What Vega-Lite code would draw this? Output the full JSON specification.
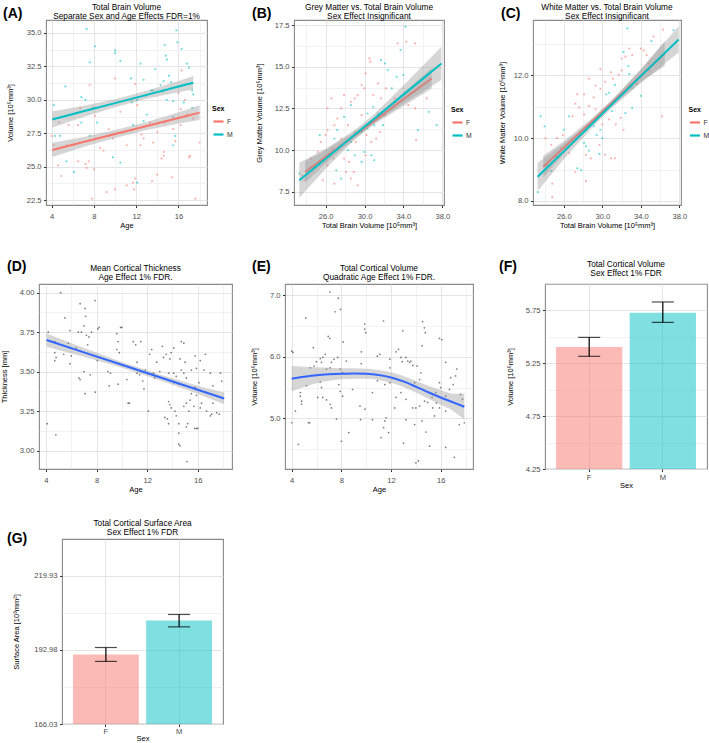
{
"$schema": "https://vega.github.io/schema/vega-lite/v6.json",
"padding": {"top": 1, "left": 0, "right": 0, "bottom": 0},
"background": "white",
"spacing": 0,
"datasets": {
"A_pts": [
{"s":"M","x":7.3,"y":35.3},{"s":"M","x":8.1,"y":34.0},{"s":"M","x":5.3,"y":31.0},{"s":"M","x":4.2,"y":29.6},{"s":"M","x":7.6,"y":32.8},{"s":"M","x":6.8,"y":30.2},{"s":"M","x":7.2,"y":30.0},{"s":"M","x":7.9,"y":29.4},{"s":"M","x":10.0,"y":33.7},{"s":"M","x":10.0,"y":33.5},{"s":"M","x":10.5,"y":32.9},{"s":"M","x":11.5,"y":31.6},{"s":"M","x":12.4,"y":32.7},{"s":"M","x":12.7,"y":31.5},{"s":"M","x":12.9,"y":30.3},{"s":"M","x":13.4,"y":30.7},{"s":"M","x":13.8,"y":32.3},{"s":"M","x":14.7,"y":34.1},{"s":"M","x":14.8,"y":33.3},{"s":"M","x":14.9,"y":33.0},{"s":"M","x":15.1,"y":31.8},{"s":"M","x":14.6,"y":31.4},{"s":"M","x":14.3,"y":31.1},{"s":"M","x":15.3,"y":31.3},{"s":"M","x":15.8,"y":35.2},{"s":"M","x":15.9,"y":34.3},{"s":"M","x":16.3,"y":33.8},{"s":"M","x":16.8,"y":32.7},{"s":"M","x":17.0,"y":32.4},{"s":"M","x":17.4,"y":30.4},{"s":"M","x":17.3,"y":29.4},{"s":"M","x":15.5,"y":28.7},{"s":"M","x":15.7,"y":27.3},{"s":"M","x":12.7,"y":28.4},{"s":"M","x":5.4,"y":25.4},{"s":"M","x":6.1,"y":24.6},{"s":"M","x":6.8,"y":28.3},{"s":"M","x":4.3,"y":27.3},{"s":"M","x":4.8,"y":27.3},{"s":"M","x":9.8,"y":25.7},{"s":"M","x":10.5,"y":25.3},{"s":"M","x":12.1,"y":23.8},{"s":"M","x":13.6,"y":30.7},{"s":"M","x":11.6,"y":29.8},{"s":"M","x":12.1,"y":30.0},{"s":"M","x":14.5,"y":30.6},{"s":"M","x":14.9,"y":30.0},{"s":"M","x":11.7,"y":28.1},{"s":"M","x":13.0,"y":28.9},{"s":"M","x":7.6,"y":27.3},{"s":"M","x":8.3,"y":28.3},{"s":"M","x":15.5,"y":26.6},{"s":"M","x":16.5,"y":29.8},{"s":"M","x":17.3,"y":30.7},{"s":"M","x":15.5,"y":29.9},
{"s":"F","x":11.9,"y":31.2},{"s":"F","x":10.0,"y":31.6},{"s":"F","x":4.0,"y":27.3},{"s":"F","x":4.2,"y":26.6},{"s":"F","x":4.6,"y":25.1},{"s":"F","x":4.9,"y":24.3},{"s":"F","x":6.5,"y":25.4},{"s":"F","x":7.2,"y":25.2},{"s":"F","x":7.3,"y":24.9},{"s":"F","x":7.5,"y":25.4},{"s":"F","x":8.0,"y":24.8},{"s":"F","x":7.8,"y":22.6},{"s":"F","x":9.2,"y":23.1},{"s":"F","x":10.0,"y":23.3},{"s":"F","x":11.1,"y":23.6},{"s":"F","x":11.7,"y":23.8},{"s":"F","x":11.9,"y":24.1},{"s":"F","x":11.8,"y":23.3},{"s":"F","x":13.5,"y":23.9},{"s":"F","x":14.0,"y":24.4},{"s":"F","x":14.6,"y":26.1},{"s":"F","x":14.6,"y":25.8},{"s":"F","x":14.4,"y":25.6},{"s":"F","x":15.4,"y":24.2},{"s":"F","x":15.7,"y":26.9},{"s":"F","x":16.2,"y":28.1},{"s":"F","x":17.0,"y":25.7},{"s":"F","x":17.1,"y":25.8},{"s":"F","x":17.6,"y":22.6},{"s":"F","x":18.0,"y":26.8},{"s":"F","x":16.3,"y":32.2},{"s":"F","x":16.0,"y":30.5},{"s":"F","x":12.4,"y":26.6},{"s":"F","x":12.7,"y":27.1},{"s":"F","x":11.1,"y":26.6},{"s":"F","x":9.8,"y":27.1},{"s":"F","x":8.6,"y":26.4},{"s":"F","x":8.9,"y":26.2},{"s":"F","x":6.1,"y":26.6},{"s":"F","x":5.6,"y":28.1},{"s":"F","x":6.7,"y":29.4},{"s":"F","x":9.4,"y":27.3},{"s":"F","x":8.1,"y":28.8},{"s":"F","x":7.6,"y":31.1},{"s":"F","x":13.3,"y":28.3},{"s":"F","x":14.0,"y":27.6},{"s":"F","x":14.7,"y":28.3},{"s":"F","x":15.5,"y":27.8},{"s":"F","x":16.2,"y":29.3},{"s":"F","x":16.6,"y":30.0},{"s":"F","x":17.4,"y":28.6},{"s":"F","x":16.8,"y":28.9},{"s":"F","x":13.6,"y":26.8},{"s":"F","x":11.6,"y":27.7},{"s":"F","x":12.5,"y":27.4},{"s":"F","x":6.5,"y":28.1},{"s":"F","x":5.4,"y":26.6},{"s":"F","x":9.4,"y":27.8},{"s":"F","x":10.5,"y":29.1},{"s":"F","x":12.1,"y":29.6},{"s":"F","x":4.2,"y":28.6},{"s":"F","x":4.7,"y":28.3}
],
"A_fit": [
{"s":"F","x":4.06,"y":26.25,"lo":25.72,"hi":26.78},{"s":"F","x":7,"y":26.84,"lo":26.46,"hi":27.22},{"s":"F","x":10,"y":27.44,"lo":27.14,"hi":27.74},{"s":"F","x":13,"y":28.04,"lo":27.74,"hi":28.34},{"s":"F","x":16,"y":28.64,"lo":28.22,"hi":29.06},{"s":"F","x":18,"y":29.04,"lo":28.49,"hi":29.59},
{"s":"M","x":4.06,"y":28.53,"lo":27.93,"hi":29.13},{"s":"M","x":7,"y":29.14,"lo":28.72,"hi":29.56},{"s":"M","x":10,"y":29.75,"lo":29.45,"hi":30.05},{"s":"M","x":13,"y":30.37,"lo":30.07,"hi":30.67},{"s":"M","x":16,"y":30.99,"lo":30.57,"hi":31.41},{"s":"M","x":17.4,"y":31.28,"lo":30.78,"hi":31.78}
],
"B_pts": [
{"s":"M","x":34.2,"y":17.4},{"s":"M","x":33.7,"y":16.0},{"s":"M","x":31.7,"y":15.4},{"s":"M","x":32.1,"y":15.2},{"s":"M","x":32.8,"y":13.7},{"s":"M","x":33.3,"y":14.4},{"s":"M","x":34.0,"y":14.5},{"s":"M","x":30.9,"y":12.6},{"s":"M","x":31.4,"y":12.2},{"s":"M","x":30.3,"y":11.3},{"s":"M","x":31.0,"y":11.5},{"s":"M","x":31.9,"y":11.5},{"s":"M","x":29.7,"y":11.1},{"s":"M","x":28.6,"y":12.7},{"s":"M","x":27.9,"y":12.0},{"s":"M","x":27.2,"y":11.2},{"s":"M","x":26.9,"y":10.7},{"s":"M","x":25.4,"y":10.9},{"s":"M","x":26.4,"y":9.7},{"s":"M","x":28.3,"y":10.0},{"s":"M","x":29.0,"y":9.7},{"s":"M","x":30.0,"y":9.9},{"s":"M","x":30.7,"y":9.7},{"s":"M","x":31.0,"y":9.4},{"s":"M","x":29.7,"y":9.3},{"s":"M","x":27.1,"y":8.8},{"s":"M","x":27.6,"y":8.3},{"s":"M","x":24.8,"y":9.0},{"s":"M","x":24.0,"y":8.3},{"s":"M","x":23.3,"y":8.6},{"s":"M","x":35.5,"y":11.2},{"s":"M","x":37.4,"y":11.5},{"s":"M","x":36.6,"y":12.3},{"s":"M","x":35.1,"y":13.5},{"s":"M","x":32.4,"y":14.8},{"s":"M","x":32.8,"y":12.5},{"s":"M","x":28.6,"y":10.5},{"s":"M","x":30.3,"y":12.2},
{"s":"F","x":33.4,"y":16.4},{"s":"F","x":34.3,"y":16.5},{"s":"F","x":35.2,"y":16.4},{"s":"F","x":30.5,"y":15.5},{"s":"F","x":30.6,"y":15.3},{"s":"F","x":30.1,"y":14.6},{"s":"F","x":29.7,"y":13.9},{"s":"F","x":30.0,"y":13.7},{"s":"F","x":29.3,"y":13.3},{"s":"F","x":29.0,"y":13.1},{"s":"F","x":28.6,"y":12.9},{"s":"F","x":31.4,"y":14.0},{"s":"F","x":32.2,"y":13.7},{"s":"F","x":30.9,"y":13.3},{"s":"F","x":31.7,"y":13.1},{"s":"F","x":27.6,"y":12.5},{"s":"F","x":27.2,"y":11.9},{"s":"F","x":26.9,"y":11.5},{"s":"F","x":26.2,"y":11.2},{"s":"F","x":26.0,"y":10.9},{"s":"F","x":25.5,"y":10.5},{"s":"F","x":25.2,"y":9.9},{"s":"F","x":24.5,"y":9.5},{"s":"F","x":24.3,"y":8.9},{"s":"F","x":23.8,"y":8.2},{"s":"F","x":23.6,"y":8.5},{"s":"F","x":25.7,"y":8.2},{"s":"F","x":26.2,"y":9.1},{"s":"F","x":26.7,"y":10.1},{"s":"F","x":26.8,"y":9.5},{"s":"F","x":27.9,"y":9.5},{"s":"F","x":28.4,"y":9.3},{"s":"F","x":28.9,"y":8.7},{"s":"F","x":29.3,"y":7.9},{"s":"F","x":30.1,"y":9.7},{"s":"F","x":30.7,"y":10.5},{"s":"F","x":30.2,"y":10.9},{"s":"F","x":31.2,"y":10.7},{"s":"F","x":31.6,"y":11.1},{"s":"F","x":32.1,"y":12.1},{"s":"F","x":33.1,"y":13.1},{"s":"F","x":34.5,"y":12.7},{"s":"F","x":35.2,"y":12.5},{"s":"F","x":35.3,"y":10.6},{"s":"F","x":36.4,"y":13.1},{"s":"F","x":28.1,"y":8.7},{"s":"F","x":28.6,"y":8.3},{"s":"F","x":26.9,"y":8.0},{"s":"F","x":27.6,"y":10.7},{"s":"F","x":29.0,"y":11.1},{"s":"F","x":29.7,"y":12.1},{"s":"F","x":28.3,"y":11.5},{"s":"F","x":29.1,"y":10.5},{"s":"F","x":26.6,"y":13.1},{"s":"F","x":27.9,"y":13.3},{"s":"F","x":26.2,"y":12.5}
],
"B_fit": [
{"s":"F","x":23.9,"y":8.7,"lo":8.05,"hi":9.35},{"s":"F","x":26,"y":9.6,"lo":9.2,"hi":10.0},{"s":"F","x":29,"y":10.9,"lo":10.7,"hi":11.1},{"s":"F","x":31,"y":11.76,"lo":11.56,"hi":11.96},{"s":"F","x":34,"y":13.05,"lo":12.65,"hi":13.45},{"s":"F","x":36.9,"y":14.3,"lo":13.68,"hi":14.92},
{"s":"M","x":23.3,"y":8.2,"lo":7.15,"hi":9.25},{"s":"M","x":26,"y":9.49,"lo":8.89,"hi":10.09},{"s":"M","x":29,"y":10.93,"lo":10.65,"hi":11.21},{"s":"M","x":31,"y":11.89,"lo":11.61,"hi":12.17},{"s":"M","x":34,"y":13.33,"lo":12.78,"hi":13.88},{"s":"M","x":37.9,"y":15.2,"lo":14.2,"hi":16.2}
],
"C_pts": [
{"s":"M","x":32.6,"y":13.5},{"s":"M","x":35.1,"y":13.1},{"s":"M","x":37.4,"y":13.45},{"s":"M","x":32.7,"y":12.3},{"s":"M","x":32.2,"y":12.75},{"s":"M","x":32.8,"y":12.05},{"s":"M","x":33.1,"y":11.6},{"s":"M","x":34.0,"y":11.35},{"s":"M","x":31.3,"y":11.7},{"s":"M","x":30.7,"y":11.45},{"s":"M","x":30.4,"y":11.4},{"s":"M","x":33.1,"y":10.97},{"s":"M","x":32.4,"y":10.8},{"s":"M","x":31.0,"y":10.87},{"s":"M","x":29.8,"y":10.27},{"s":"M","x":29.4,"y":10.1},{"s":"M","x":30.0,"y":10.0},{"s":"M","x":29.7,"y":9.5},{"s":"M","x":28.1,"y":9.85},{"s":"M","x":28.3,"y":9.74},{"s":"M","x":28.6,"y":9.6},{"s":"M","x":27.4,"y":9.04},{"s":"M","x":27.8,"y":8.98},{"s":"M","x":23.6,"y":10.7},{"s":"M","x":24.0,"y":10.38},{"s":"M","x":24.7,"y":8.95},{"s":"M","x":23.3,"y":8.28},{"s":"M","x":29.1,"y":10.38},{"s":"M","x":27.6,"y":10.1},{"s":"M","x":26.55,"y":10.7},{"s":"M","x":26.0,"y":10.27},
{"s":"F","x":36.3,"y":13.46},{"s":"F","x":35.3,"y":13.24},{"s":"F","x":34.3,"y":12.8},{"s":"F","x":34.0,"y":12.86},{"s":"F","x":32.8,"y":12.86},{"s":"F","x":33.1,"y":12.65},{"s":"F","x":32.4,"y":12.6},{"s":"F","x":32.0,"y":12.54},{"s":"F","x":32.0,"y":12.16},{"s":"F","x":31.7,"y":12.03},{"s":"F","x":31.1,"y":11.9},{"s":"F","x":30.9,"y":12.1},{"s":"F","x":29.8,"y":12.2},{"s":"F","x":28.6,"y":11.9},{"s":"F","x":29.3,"y":11.68},{"s":"F","x":29.8,"y":11.57},{"s":"F","x":30.3,"y":11.8},{"s":"F","x":28.1,"y":11.4},{"s":"F","x":29.1,"y":11.3},{"s":"F","x":27.4,"y":11.4},{"s":"F","x":26.9,"y":10.7},{"s":"F","x":27.2,"y":11.1},{"s":"F","x":27.6,"y":10.98},{"s":"F","x":28.1,"y":10.76},{"s":"F","x":28.6,"y":11.03},{"s":"F","x":29.3,"y":10.92},{"s":"F","x":30.0,"y":10.87},{"s":"F","x":30.7,"y":10.6},{"s":"F","x":31.4,"y":10.44},{"s":"F","x":31.9,"y":10.65},{"s":"F","x":32.2,"y":10.27},{"s":"F","x":30.0,"y":10.44},{"s":"F","x":29.7,"y":9.79},{"s":"F","x":30.3,"y":9.47},{"s":"F","x":30.9,"y":9.36},{"s":"F","x":31.3,"y":9.36},{"s":"F","x":28.3,"y":9.47},{"s":"F","x":28.8,"y":9.36},{"s":"F","x":26.55,"y":9.52},{"s":"F","x":25.7,"y":9.68},{"s":"F","x":25.2,"y":9.41},{"s":"F","x":25.9,"y":10.1},{"s":"F","x":25.3,"y":10.0},{"s":"F","x":24.7,"y":9.79},{"s":"F","x":24.3,"y":9.14},{"s":"F","x":24.1,"y":10.0},{"s":"F","x":24.8,"y":8.55},{"s":"F","x":24.8,"y":8.12},{"s":"F","x":27.2,"y":8.93},{"s":"F","x":28.3,"y":8.63},{"s":"F","x":34.8,"y":12.38},{"s":"F","x":34.6,"y":12.65},{"s":"F","x":36.2,"y":10.7},{"s":"F","x":33.6,"y":11.73},{"s":"F","x":34.0,"y":11.95},{"s":"F","x":34.9,"y":12.16}
],
"C_fit": [
{"s":"F","x":23.86,"y":9.09,"lo":8.74,"hi":9.44},{"s":"F","x":26,"y":9.7,"lo":9.5,"hi":9.9},{"s":"F","x":29,"y":10.56,"lo":10.46,"hi":10.66},{"s":"F","x":31,"y":11.13,"lo":11.03,"hi":11.23},{"s":"F","x":34,"y":11.99,"lo":11.79,"hi":12.19},{"s":"F","x":36.48,"y":12.7,"lo":12.3,"hi":13.1},
{"s":"M","x":23.28,"y":8.77,"lo":8.32,"hi":9.22},{"s":"M","x":26,"y":9.58,"lo":9.33,"hi":9.83},{"s":"M","x":29,"y":10.48,"lo":10.36,"hi":10.6},{"s":"M","x":31,"y":11.08,"lo":10.96,"hi":11.2},{"s":"M","x":34,"y":11.98,"lo":11.76,"hi":12.2},{"s":"M","x":37.93,"y":13.15,"lo":12.73,"hi":13.57}
],
"D_pts": [
{"x":5.16,"y":4.00},{"x":5.5,"y":3.84},{"x":6.7,"y":3.93},{"x":7.14,"y":3.85},{"x":7.09,"y":3.90},{"x":7.88,"y":3.95},{"x":5.9,"y":3.76},{"x":6.56,"y":3.75},{"x":6.8,"y":3.75},{"x":7.0,"y":3.79},{"x":7.2,"y":3.73},{"x":7.4,"y":3.72},{"x":7.6,"y":3.75},{"x":8.1,"y":3.77},{"x":8.2,"y":3.78},{"x":5.77,"y":3.68},{"x":5.9,"y":3.65},{"x":6.4,"y":3.65},{"x":7.3,"y":3.67},{"x":4.18,"y":3.75},{"x":4.7,"y":3.69},{"x":4.7,"y":3.62},{"x":4.8,"y":3.59},{"x":4.7,"y":3.57},{"x":5.4,"y":3.61},{"x":6.0,"y":3.60},{"x":5.9,"y":3.55},{"x":6.7,"y":3.45},{"x":7.0,"y":3.50},{"x":7.1,"y":3.36},{"x":6.6,"y":3.46},{"x":7.5,"y":3.48},{"x":8.06,"y":3.57},{"x":8.3,"y":3.59},{"x":8.9,"y":3.50},{"x":9.1,"y":3.49},{"x":9.0,"y":3.41},{"x":9.6,"y":3.74},{"x":9.9,"y":3.78},{"x":10.0,"y":3.78},{"x":9.7,"y":3.69},{"x":9.8,"y":3.62},{"x":9.6,"y":3.64},{"x":10.9,"y":3.69},{"x":11.1,"y":3.67},{"x":11.5,"y":3.69},{"x":10.4,"y":3.45},{"x":10.5,"y":3.30},{"x":11.2,"y":3.56},{"x":11.2,"y":3.49},{"x":11.4,"y":3.48},{"x":11.65,"y":3.44},{"x":11.75,"y":3.39},{"x":11.86,"y":3.51},{"x":12.1,"y":3.25},{"x":12.2,"y":3.61},{"x":12.36,"y":3.64},{"x":12.5,"y":3.49},{"x":12.6,"y":3.46},{"x":12.76,"y":3.56},{"x":13.0,"y":3.50},{"x":13.2,"y":3.66},{"x":13.3,"y":3.59},{"x":13.5,"y":3.61},{"x":13.7,"y":3.49},{"x":13.8,"y":3.58},{"x":13.9,"y":3.62},{"x":14.1,"y":3.65},{"x":14.1,"y":3.49},{"x":14.3,"y":3.47},{"x":14.5,"y":3.42},{"x":14.6,"y":3.58},{"x":14.7,"y":3.51},{"x":14.9,"y":3.49},{"x":15.0,"y":3.56},{"x":15.1,"y":3.46},{"x":14.7,"y":3.69},{"x":14.9,"y":3.68},{"x":15.5,"y":3.51},{"x":15.8,"y":3.60},{"x":15.9,"y":3.52},{"x":16.2,"y":3.57},{"x":16.5,"y":3.51},{"x":16.6,"y":3.61},{"x":17.0,"y":3.49},{"x":17.2,"y":3.41},{"x":17.8,"y":3.49},{"x":17.9,"y":3.44},{"x":14.1,"y":3.43},{"x":13.7,"y":3.31},{"x":13.8,"y":3.29},{"x":13.9,"y":3.27},{"x":14.2,"y":3.25},{"x":14.3,"y":3.22},{"x":13.4,"y":3.21},{"x":14.9,"y":3.28},{"x":15.1,"y":3.30},{"x":15.3,"y":3.25},{"x":15.4,"y":3.32},{"x":15.5,"y":3.36},{"x":15.7,"y":3.28},{"x":15.8,"y":3.40},{"x":15.9,"y":3.35},{"x":16.1,"y":3.43},{"x":16.3,"y":3.30},{"x":16.7,"y":3.25},{"x":17.0,"y":3.22},{"x":17.1,"y":3.23},{"x":17.5,"y":3.24},{"x":17.7,"y":3.23},{"x":15.1,"y":3.15},{"x":15.9,"y":3.14},{"x":16.2,"y":3.27},{"x":17.2,"y":3.30},{"x":9.7,"y":3.42},{"x":7.9,"y":3.37},{"x":4.1,"y":3.17},{"x":4.78,"y":3.10},{"x":10.6,"y":3.30},{"x":13.6,"y":3.20},{"x":13.7,"y":3.17},{"x":14.5,"y":3.17},{"x":14.5,"y":3.11},{"x":14.5,"y":3.04},{"x":14.6,"y":3.03},{"x":15.2,"y":3.17},{"x":15.75,"y":3.14},{"x":16.0,"y":3.14},{"x":15.15,"y":2.93}
],
"D_fit": [
{"x":4.05,"y":3.70,"lo":3.658,"hi":3.742},{"x":7,"y":3.622,"lo":3.594,"hi":3.65},{"x":10,"y":3.543,"lo":3.525,"hi":3.561},{"x":13,"y":3.464,"lo":3.446,"hi":3.482},{"x":16,"y":3.385,"lo":3.359,"hi":3.411},{"x":18.09,"y":3.33,"lo":3.293,"hi":3.367}
],
"E_pts": [
{"x":7.08,"y":7.05},{"x":7.75,"y":6.95},{"x":7.93,"y":6.77},{"x":5.13,"y":6.63},{"x":7.48,"y":6.73},{"x":6.94,"y":6.33},{"x":7.08,"y":6.30},{"x":5.74,"y":6.15},{"x":9.88,"y":6.53},{"x":9.88,"y":6.45},{"x":9.96,"y":6.39},{"x":8.14,"y":6.24},{"x":9.61,"y":6.08},{"x":11.4,"y":6.58},{"x":12.95,"y":6.42},{"x":14.54,"y":6.57},{"x":14.68,"y":6.47},{"x":14.76,"y":6.39},{"x":14.5,"y":6.18},{"x":15.9,"y":6.30},{"x":16.1,"y":6.28},{"x":4.0,"y":6.09},{"x":4.1,"y":6.07},{"x":6.0,"y":5.92},{"x":6.3,"y":5.97},{"x":6.5,"y":5.99},{"x":6.7,"y":6.04},{"x":6.4,"y":5.91},{"x":7.2,"y":5.91},{"x":7.4,"y":5.96},{"x":7.7,"y":5.99},{"x":5.5,"y":5.82},{"x":5.8,"y":5.85},{"x":6.8,"y":5.80},{"x":7.1,"y":5.82},{"x":7.9,"y":5.80},{"x":8.4,"y":5.93},{"x":9.6,"y":5.89},{"x":10.9,"y":6.01},{"x":11.1,"y":6.04},{"x":11.9,"y":5.96},{"x":11.9,"y":5.82},{"x":12.4,"y":6.08},{"x":12.6,"y":6.12},{"x":12.8,"y":5.99},{"x":12.9,"y":5.92},{"x":13.2,"y":5.99},{"x":13.35,"y":5.93},{"x":13.5,"y":5.91},{"x":13.6,"y":5.93},{"x":13.75,"y":5.86},{"x":14.1,"y":5.85},{"x":14.4,"y":5.74},{"x":14.3,"y":5.63},{"x":13.9,"y":5.58},{"x":13.2,"y":5.31},{"x":12.8,"y":5.42},{"x":12.4,"y":5.34},{"x":12.3,"y":5.17},{"x":13.75,"y":5.17},{"x":14.0,"y":5.17},{"x":14.3,"y":5.20},{"x":14.7,"y":5.28},{"x":14.95,"y":5.26},{"x":15.3,"y":5.34},{"x":15.6,"y":5.42},{"x":15.35,"y":5.17},{"x":15.9,"y":5.58},{"x":16.0,"y":5.50},{"x":16.4,"y":5.36},{"x":16.7,"y":5.47},{"x":17.0,"y":5.55},{"x":17.2,"y":5.69},{"x":17.3,"y":5.80},{"x":17.6,"y":5.39},{"x":17.75,"y":5.31},{"x":15.65,"y":5.25},{"x":15.9,"y":5.17},{"x":16.4,"y":5.12},{"x":16.4,"y":5.91},{"x":16.8,"y":5.66},{"x":4.7,"y":5.42},{"x":4.7,"y":5.36},{"x":4.8,"y":5.28},{"x":4.8,"y":5.23},{"x":4.3,"y":5.12},{"x":5.2,"y":5.53},{"x":6.3,"y":5.59},{"x":6.4,"y":5.50},{"x":6.5,"y":5.34},{"x":6.8,"y":5.30},{"x":7.1,"y":5.23},{"x":7.2,"y":5.17},{"x":6.1,"y":5.34},{"x":7.8,"y":5.55},{"x":7.9,"y":5.44},{"x":8.1,"y":5.36},{"x":8.1,"y":5.74},{"x":8.9,"y":5.47},{"x":9.5,"y":5.20},{"x":9.9,"y":5.15},{"x":10.5,"y":5.42},{"x":10.9,"y":5.61},{"x":11.5,"y":5.55},{"x":11.9,"y":5.58},{"x":7.6,"y":4.99},{"x":4.0,"y":4.93},{"x":5.35,"y":4.93},{"x":10.5,"y":4.98},{"x":11.5,"y":4.96},{"x":11.6,"y":5.01},{"x":14.5,"y":4.96},{"x":15.5,"y":5.04},{"x":17.9,"y":4.93},{"x":4.54,"y":4.58},{"x":5.45,"y":4.93},{"x":8.0,"y":4.63},{"x":8.6,"y":4.77},{"x":9.55,"y":4.98},{"x":11.2,"y":4.69},{"x":11.4,"y":4.85},{"x":11.8,"y":4.77},{"x":13.0,"y":4.60},{"x":13.2,"y":4.98},{"x":13.9,"y":4.90},{"x":14.2,"y":4.31},{"x":14.0,"y":4.28},{"x":15.1,"y":4.55},{"x":14.8,"y":4.78},{"x":16.4,"y":4.53},{"x":17.1,"y":4.37},{"x":17.5,"y":4.90}
],
"E_fit": [
{"x":4.0,"y":5.645,"lo":5.44,"hi":5.85},{"x":5,"y":5.675,"lo":5.51,"hi":5.84},{"x":6,"y":5.70,"lo":5.57,"hi":5.83},{"x":7,"y":5.715,"lo":5.61,"hi":5.82},{"x":8,"y":5.725,"lo":5.635,"hi":5.815},{"x":9,"y":5.73,"lo":5.645,"hi":5.815},{"x":10,"y":5.725,"lo":5.645,"hi":5.805},{"x":11,"y":5.705,"lo":5.625,"hi":5.785},{"x":12,"y":5.665,"lo":5.58,"hi":5.75},{"x":13,"y":5.60,"lo":5.51,"hi":5.69},{"x":14,"y":5.515,"lo":5.42,"hi":5.61},{"x":15,"y":5.425,"lo":5.32,"hi":5.53},{"x":16,"y":5.34,"lo":5.22,"hi":5.46},{"x":17,"y":5.26,"lo":5.12,"hi":5.40},{"x":17.9,"y":5.19,"lo":4.98,"hi":5.40}
],
"F_bar": [{"s":"F","y":5.405,"lo":5.316,"hi":5.495},{"s":"M","y":5.727,"lo":5.637,"hi":5.83}],
"G_bar": [{"s":"F","y":191.3,"lo":188.75,"hi":193.8},{"s":"M","y":203.65,"lo":201.3,"hi":205.8}]
},
"vconcat": [
{"hconcat": [
{"width":46,"height":238,"data":{"values":[]},"mark":"rule","encoding":{},"view":{"stroke":null},
 "title":{"text":"(A)","font":"Liberation Sans","fontSize":14,"fontWeight":"bold","anchor":"start","dx":3,"baseline":"alphabetic","offset":-12}},
{"width":161,"height":185,
 "title":{"text":["Total Brain Volume","Separate Sex and Age Effects FDR=1%"],"offset":0},
 "encoding":{"x":{"field":"x","type":"quantitative","scale":{"domain":[3.46,18.7],"nice":false,"zero":false},
   "axis":{"title":"Age","tickCount":30,"format":"d","values":[4,6,8,10,12,14,16,18],"labelExpr":"indexof([4,8,12,16],datum.value)>=0?datum.label:''","tickOpacity":{"condition":{"test":"indexof([4,8,12,16],datum.value)>=0","value":1},"value":0},"gridWidth":{"condition":{"test":"indexof([4,8,12,16],datum.value)>=0","value":0.9},"value":0.45}}}},
 "layer":[
  {"data":{"name":"A_pts"},"mark":{"type":"circle","size":5,"opacity":0.55},
   "encoding":{"y":{"field":"y","type":"quantitative","scale":{"domain":[22.13,35.97],"nice":false,"zero":false},
     "axis":{"title":"Volume [10⁵mm³]","tickCount":30,"titlePadding":11.5,"format":".1f","values":[22.5,23.75,25,26.25,27.5,28.75,30,31.25,32.5,33.75,35],"labelExpr":"indexof([22.5,25,27.5,30,32.5,35],datum.value)>=0?datum.label:''","tickOpacity":{"condition":{"test":"indexof([22.5,25,27.5,30,32.5,35],datum.value)>=0","value":1},"value":0},"gridWidth":{"condition":{"test":"indexof([22.5,25,27.5,30,32.5,35],datum.value)>=0","value":0.9},"value":0.45}}},
    "fill":{"field":"s","type":"nominal","scale":{"range":["#F8766D","#00BFC4"]},"legend":null}}},
  {"data":{"name":"A_fit"},"transform":[{"filter":"datum.s=='F'"}],"mark":{"type":"area","color":"#999999","opacity":0.4},
   "encoding":{"y":{"field":"lo","type":"quantitative"},"y2":{"field":"hi"}}},
  {"data":{"name":"A_fit"},"transform":[{"filter":"datum.s=='F'"}],"mark":{"type":"line","strokeWidth":2},
   "encoding":{"y":{"field":"y","type":"quantitative"},"stroke":{"field":"s","type":"nominal","scale":{"domain":["F","M"],"range":["#F8766D","#00BFC4"]},"legend":{"title":"Sex","orient":"none","legendX":166,"legendY":85}}}},
  {"data":{"name":"A_fit"},"transform":[{"filter":"datum.s=='M'"}],"mark":{"type":"area","color":"#999999","opacity":0.4},
   "encoding":{"y":{"field":"lo","type":"quantitative"},"y2":{"field":"hi"}}},
  {"data":{"name":"A_fit"},"transform":[{"filter":"datum.s=='M'"}],"mark":{"type":"line","strokeWidth":2},
   "encoding":{"y":{"field":"y","type":"quantitative"},"stroke":{"field":"s","type":"nominal","scale":{"domain":["F","M"],"range":["#F8766D","#00BFC4"]},"legend":{"title":"Sex","orient":"none","legendX":166,"legendY":85}}}}
 ]},
{"width":87,"height":238,"data":{"values":[]},"mark":"rule","encoding":{},"view":{"stroke":null},
 "title":{"text":"(B)","font":"Liberation Sans","fontSize":14,"fontWeight":"bold","anchor":"start","dx":45,"baseline":"alphabetic","offset":-12}},
{"width":150,"height":185,
 "title":{"text":["Grey Matter vs. Total Brain Volume","Sex Effect Insignificant"],"offset":0},
 "encoding":{"x":{"field":"x","type":"quantitative","scale":{"domain":[22.75,38.17],"nice":false,"zero":false},
   "axis":{"title":"Total Brain Volume [10⁵mm³]","tickCount":30,"format":".1f","values":[24,26,28,30,32,34,36,38],"labelExpr":"indexof([26,30,34,38],datum.value)>=0?datum.label:''","tickOpacity":{"condition":{"test":"indexof([26,30,34,38],datum.value)>=0","value":1},"value":0},"gridWidth":{"condition":{"test":"indexof([26,30,34,38],datum.value)>=0","value":0.9},"value":0.45}}}},
 "layer":[
  {"data":{"name":"B_pts"},"mark":{"type":"circle","size":5,"opacity":0.55},
   "encoding":{"y":{"field":"y","type":"quantitative","scale":{"domain":[6.72,17.8],"nice":false,"zero":false},
     "axis":{"title":"Grey Matter Volume [10⁵mm³]","tickCount":30,"format":".1f","values":[7.5,8.75,10,11.25,12.5,13.75,15,16.25,17.5],"labelExpr":"indexof([7.5,10,12.5,15,17.5],datum.value)>=0?datum.label:''","tickOpacity":{"condition":{"test":"indexof([7.5,10,12.5,15,17.5],datum.value)>=0","value":1},"value":0},"gridWidth":{"condition":{"test":"indexof([7.5,10,12.5,15,17.5],datum.value)>=0","value":0.9},"value":0.45}}},
    "fill":{"field":"s","type":"nominal","scale":{"range":["#F8766D","#00BFC4"]},"legend":null}}},
  {"data":{"name":"B_fit"},"transform":[{"filter":"datum.s=='F'"}],"mark":{"type":"area","color":"#999999","opacity":0.4},
   "encoding":{"y":{"field":"lo","type":"quantitative"},"y2":{"field":"hi"}}},
  {"data":{"name":"B_fit"},"transform":[{"filter":"datum.s=='F'"}],"mark":{"type":"line","strokeWidth":2},
   "encoding":{"y":{"field":"y","type":"quantitative"},"stroke":{"field":"s","type":"nominal","scale":{"domain":["F","M"],"range":["#F8766D","#00BFC4"]},"legend":{"title":"Sex","orient":"none","legendX":157,"legendY":86}}}},
  {"data":{"name":"B_fit"},"transform":[{"filter":"datum.s=='M'"}],"mark":{"type":"area","color":"#999999","opacity":0.4},
   "encoding":{"y":{"field":"lo","type":"quantitative"},"y2":{"field":"hi"}}},
  {"data":{"name":"B_fit"},"transform":[{"filter":"datum.s=='M'"}],"mark":{"type":"line","strokeWidth":2},
   "encoding":{"y":{"field":"y","type":"quantitative"},"stroke":{"field":"s","type":"nominal","scale":{"domain":["F","M"],"range":["#F8766D","#00BFC4"]},"legend":{"title":"Sex","orient":"none","legendX":157,"legendY":86}}}}
 ]},
{"width":89,"height":238,"data":{"values":[]},"mark":"rule","encoding":{},"view":{"stroke":null},
 "title":{"text":"(C)","font":"Liberation Sans","fontSize":14,"fontWeight":"bold","anchor":"start","dx":57,"baseline":"alphabetic","offset":-12}},
{"width":148,"height":185,
 "title":{"text":["White Matter vs. Total Brain Volume","Sex Effect Insignificant"],"offset":0},
 "encoding":{"x":{"field":"x","type":"quantitative","scale":{"domain":[22.8,38.17],"nice":false,"zero":false},
   "axis":{"title":"Total Brain Volume [10⁵mm³]","tickCount":30,"format":".1f","values":[24,26,28,30,32,34,36,38],"labelExpr":"indexof([26,30,34,38],datum.value)>=0?datum.label:''","tickOpacity":{"condition":{"test":"indexof([26,30,34,38],datum.value)>=0","value":1},"value":0},"gridWidth":{"condition":{"test":"indexof([26,30,34,38],datum.value)>=0","value":0.9},"value":0.45}}}},
 "layer":[
  {"data":{"name":"C_pts"},"mark":{"type":"circle","size":5,"opacity":0.55},
   "encoding":{"y":{"field":"y","type":"quantitative","scale":{"domain":[7.87,13.77],"nice":false,"zero":false},
     "axis":{"title":"White Matter Volume [10⁵mm³]","tickCount":30,"titlePadding":6.5,"format":".1f","values":[8,9,10,11,12,13],"labelExpr":"indexof([8,10,12],datum.value)>=0?datum.label:''","tickOpacity":{"condition":{"test":"indexof([8,10,12],datum.value)>=0","value":1},"value":0},"gridWidth":{"condition":{"test":"indexof([8,10,12],datum.value)>=0","value":0.9},"value":0.45}}},
    "fill":{"field":"s","type":"nominal","scale":{"range":["#F8766D","#00BFC4"]},"legend":null}}},
  {"data":{"name":"C_fit"},"transform":[{"filter":"datum.s=='F'"}],"mark":{"type":"area","color":"#999999","opacity":0.4},
   "encoding":{"y":{"field":"lo","type":"quantitative"},"y2":{"field":"hi"}}},
  {"data":{"name":"C_fit"},"transform":[{"filter":"datum.s=='F'"}],"mark":{"type":"line","strokeWidth":2},
   "encoding":{"y":{"field":"y","type":"quantitative"},"stroke":{"field":"s","type":"nominal","scale":{"domain":["F","M"],"range":["#F8766D","#00BFC4"]},"legend":{"title":"Sex","orient":"none","legendX":155.5,"legendY":86}}}},
  {"data":{"name":"C_fit"},"transform":[{"filter":"datum.s=='M'"}],"mark":{"type":"area","color":"#999999","opacity":0.4},
   "encoding":{"y":{"field":"lo","type":"quantitative"},"y2":{"field":"hi"}}},
  {"data":{"name":"C_fit"},"transform":[{"filter":"datum.s=='M'"}],"mark":{"type":"line","strokeWidth":2},
   "encoding":{"y":{"field":"y","type":"quantitative"},"stroke":{"field":"s","type":"nominal","scale":{"domain":["F","M"],"range":["#F8766D","#00BFC4"]},"legend":{"title":"Sex","orient":"none","legendX":155.5,"legendY":86}}}}
 ]}
], "spacing": 0, "bounds": "flush", "resolve": {"scale": {"stroke": "independent", "fill": "independent"}, "legend": {"stroke": "independent"}}},
{"hconcat": [
{"width":39,"height":233.5,"data":{"values":[]},"mark":"rule","encoding":{},"view":{"stroke":null},
 "title":{"text":"(D)","font":"Liberation Sans","fontSize":14,"fontWeight":"bold","anchor":"start","dx":7,"baseline":"alphabetic","offset":-0.5}},
{"width":193,"height":185,
 "title":{"text":["Mean Cortical Thickness","Age Effect 1% FDR."],"offset":3},
 "encoding":{"x":{"field":"x","type":"quantitative","scale":{"domain":[3.45,18.71],"nice":false,"zero":false},
   "axis":{"title":"Age","tickCount":30,"format":"d","values":[4,6,8,10,12,14,16,18],"labelExpr":"indexof([4,8,12,16],datum.value)>=0?datum.label:''","tickOpacity":{"condition":{"test":"indexof([4,8,12,16],datum.value)>=0","value":1},"value":0},"gridWidth":{"condition":{"test":"indexof([4,8,12,16],datum.value)>=0","value":0.9},"value":0.45}}}},
 "layer":[
  {"data":{"name":"D_pts"},"mark":{"type":"circle","size":3,"color":"#444444","opacity":0.7},
   "encoding":{"y":{"field":"y","type":"quantitative","scale":{"domain":[2.883,4.055],"nice":false,"zero":false},
     "axis":{"title":"Thickness [mm]","tickCount":30,"format":".2f","values":[3,3.125,3.25,3.375,3.5,3.625,3.75,3.875,4],"labelExpr":"indexof([3,3.25,3.5,3.75,4],datum.value)>=0?datum.label:''","tickOpacity":{"condition":{"test":"indexof([3,3.25,3.5,3.75,4],datum.value)>=0","value":1},"value":0},"gridWidth":{"condition":{"test":"indexof([3,3.25,3.5,3.75,4],datum.value)>=0","value":0.9},"value":0.45}}}}},
  {"data":{"name":"D_fit"},"mark":{"type":"area","color":"#999999","opacity":0.4},
   "encoding":{"y":{"field":"lo","type":"quantitative"},"y2":{"field":"hi"}}},
  {"data":{"name":"D_fit"},"mark":{"type":"line","strokeWidth":2,"color":"#3366FF"},
   "encoding":{"y":{"field":"y","type":"quantitative"}}}
 ]},
{"width":53,"height":233.5,"data":{"values":[]},"mark":"rule","encoding":{},"view":{"stroke":null},
 "title":{"text":"(E)","font":"Liberation Sans","fontSize":14,"fontWeight":"bold","anchor":"start","dx":20,"baseline":"alphabetic","offset":-0.5}},
{"width":188,"height":185,
 "title":{"text":["Total Cortical Volume","Quadratic Age Effect 1% FDR."],"offset":3},
 "encoding":{"x":{"field":"x","type":"quantitative","scale":{"domain":[3.46,18.6],"nice":false,"zero":false},
   "axis":{"title":"Age","tickCount":30,"format":"d","values":[4,6,8,10,12,14,16,18],"labelExpr":"indexof([4,8,12,16],datum.value)>=0?datum.label:''","tickOpacity":{"condition":{"test":"indexof([4,8,12,16],datum.value)>=0","value":1},"value":0},"gridWidth":{"condition":{"test":"indexof([4,8,12,16],datum.value)>=0","value":0.9},"value":0.45}}}},
 "layer":[
  {"data":{"name":"E_pts"},"mark":{"type":"circle","size":3,"color":"#444444","opacity":0.7},
   "encoding":{"y":{"field":"y","type":"quantitative","scale":{"domain":[4.18,7.18],"nice":false,"zero":false},
     "axis":{"title":"Volume [10⁵mm³]","tickCount":30,"format":".1f","values":[4.5,5,5.5,6,6.5,7],"labelExpr":"indexof([5,6,7],datum.value)>=0?datum.label:''","tickOpacity":{"condition":{"test":"indexof([5,6,7],datum.value)>=0","value":1},"value":0},"gridWidth":{"condition":{"test":"indexof([5,6,7],datum.value)>=0","value":0.9},"value":0.45}}}}},
  {"data":{"name":"E_fit"},"mark":{"type":"area","color":"#999999","opacity":0.4,"interpolate":"monotone"},
   "encoding":{"y":{"field":"lo","type":"quantitative"},"y2":{"field":"hi"}}},
  {"data":{"name":"E_fit"},"mark":{"type":"line","strokeWidth":2,"color":"#3366FF","interpolate":"monotone"},
   "encoding":{"y":{"field":"y","type":"quantitative"}}}
 ]},
{"width":72,"height":233.5,"data":{"values":[]},"mark":"rule","encoding":{},"view":{"stroke":null},
 "title":{"text":"(F)","font":"Liberation Sans","fontSize":14,"fontWeight":"bold","anchor":"start","dx":26,"baseline":"alphabetic","offset":-0.5}},
{"width":162,"height":185,
 "title":{"text":["Total Cortical Volume","Sex Effect 1% FDR"],"offset":3},
 "data":{"name":"F_bar"},
 "encoding":{"x":{"field":"s","type":"nominal","scale":{"paddingInner":0.1,"paddingOuter":0.15},
   "axis":{"title":"Sex","grid":true,"bandPosition":0.5,"labelAngle":0,"gridWidth":0.9,"labelPadding":2,"titlePadding":0}}},
 "layer":[
  {"mark":{"type":"bar","opacity":0.5},
   "encoding":{"y":{"field":"y","type":"quantitative","scale":{"domain":[4.25,6.0],"nice":false,"zero":false},
     "axis":{"title":"Volume [10⁵mm³]","tickCount":30,"format":".2f","values":[4.25,4.5,4.75,5,5.25,5.5,5.75,6],"labelExpr":"indexof([4.25,4.75,5.25,5.75],datum.value)>=0?datum.label:''","tickOpacity":{"condition":{"test":"indexof([4.25,4.75,5.25,5.75],datum.value)>=0","value":1},"value":0},"gridWidth":{"condition":{"test":"indexof([4.25,4.75,5.25,5.75],datum.value)>=0","value":0.9},"value":0.45}}},
    "y2":{"datum":4.25},
    "fill":{"field":"s","type":"nominal","scale":{"range":["#F8766D","#00BFC4"]},"legend":null}}},
  {"mark":{"type":"rule","color":"#000000","strokeWidth":1.2},
   "encoding":{"y":{"field":"lo","type":"quantitative"},"y2":{"field":"hi"}}},
  {"mark":{"type":"tick","color":"#000000","size":22,"thickness":1.2},
   "encoding":{"y":{"field":"lo","type":"quantitative"}}},
  {"mark":{"type":"tick","color":"#000000","size":22,"thickness":1.2},
   "encoding":{"y":{"field":"hi","type":"quantitative"}}}
 ]}
], "spacing": 0, "bounds": "flush"},
{"hconcat": [
{"width":62,"height":185,"data":{"values":[]},"mark":"rule","encoding":{},"view":{"stroke":null},
 "title":{"text":"(G)","font":"Liberation Sans","fontSize":14,"fontWeight":"bold","anchor":"start","dx":7,"baseline":"alphabetic","offset":-17.5}},
{"width":161,"height":185,
 "title":{"text":["Total Cortical Surface Area","Sex Effect 1% FDR"],"offset":2.5},
 "data":{"name":"G_bar"},
 "encoding":{"x":{"field":"s","type":"nominal","scale":{"paddingInner":0.1,"paddingOuter":0.15},
   "axis":{"title":"Sex","grid":true,"bandPosition":0.5,"labelAngle":0,"gridWidth":0.9,"labelPadding":1,"titlePadding":-1}}},
 "layer":[
  {"mark":{"type":"bar","opacity":0.5},
   "encoding":{"y":{"field":"y","type":"quantitative","scale":{"domain":[166.03,233.2],"nice":false,"zero":false},
     "axis":{"title":"Surface Area  [10³mm²]","tickCount":30,"titlePadding":13,"format":".2f","values":[166.03,179.505,192.98,206.455,219.93],"labelExpr":"indexof([166.03,192.98,219.93],datum.value)>=0?datum.label:''","tickOpacity":{"condition":{"test":"indexof([166.03,192.98,219.93],datum.value)>=0","value":1},"value":0},"gridWidth":{"condition":{"test":"indexof([166.03,192.98,219.93],datum.value)>=0","value":0.9},"value":0.45}}},
    "y2":{"datum":166.03},
    "fill":{"field":"s","type":"nominal","scale":{"range":["#F8766D","#00BFC4"]},"legend":null}}},
  {"mark":{"type":"rule","color":"#000000","strokeWidth":1.2},
   "encoding":{"y":{"field":"lo","type":"quantitative"},"y2":{"field":"hi"}}},
  {"mark":{"type":"tick","color":"#000000","size":22,"thickness":1.2},
   "encoding":{"y":{"field":"lo","type":"quantitative"}}},
  {"mark":{"type":"tick","color":"#000000","size":22,"thickness":1.2},
   "encoding":{"y":{"field":"hi","type":"quantitative"}}}
 ]}
], "spacing": 0, "bounds": "flush"}
],
"config": {
 "font": "Liberation Sans",
 "view": {"stroke": "#8A8A8A", "strokeWidth": 1.1},
 "axis": {"labelFont":"Liberation Sans","labelFontSize":7.6,"labelColor":"#4D4D4D","titleFont":"Liberation Sans","titleFontSize":7.5,"titleFontWeight":"normal","titleColor":"#000000","domain":false,"tickColor":"#333333","tickSize":2.5,"tickWidth":1,"gridColor":"#E2E2E2","labelFlush":false,"labelOverlap":false},
 "axisX": {"labelPadding":5,"titlePadding":1,"labelAngle":0},
 "axisY": {"labelPadding":2.5,"titlePadding":10.5},
 "title": {"font":"Liberation Sans","fontSize":8.3,"fontWeight":"normal","color":"#000000","anchor":"middle","lineHeight":9.2,"frame":"group"},
 "legend": {"titleFont":"Liberation Sans","titleFontSize":7,"titleFontWeight":"bold","labelFont":"Liberation Sans","labelFontSize":6.8,"labelColor":"#333333","symbolType":"stroke","symbolStrokeWidth":2.2,"symbolSize":100,"rowPadding":2,"titlePadding":3,"labelOffset":2,"padding":0}
}
}
